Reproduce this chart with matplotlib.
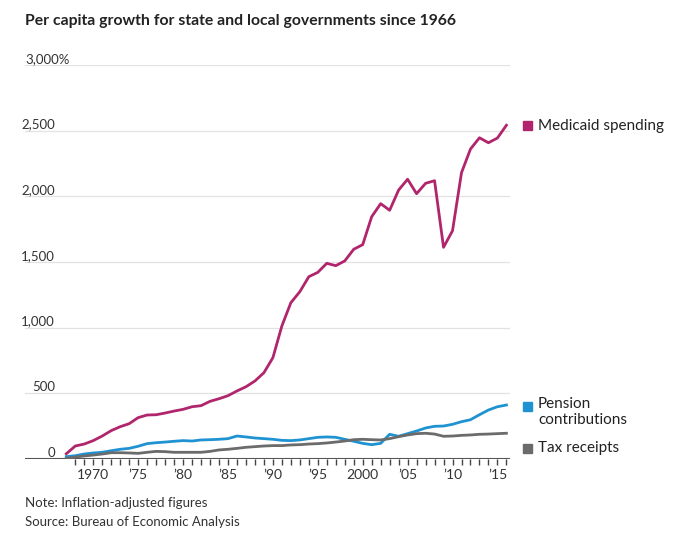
import matplotlib.pyplot as plt

plt.rcParams['font.family'] = ['Lato', 'DejaVu Sans']

YEARS = list(range(1967, 2017))

MEDICAID = [40, 99, 114, 140, 175, 216, 246, 269, 315, 335,
            337, 350, 365, 378, 398, 406, 439, 459, 482, 518,
            550, 594, 657, 771, 1013, 1190, 1274, 1388, 1421, 1490,
            1472, 1508, 1597, 1632, 1845, 1944, 1894, 2048, 2130, 2020,
            2099, 2119, 1612, 1738, 2180, 2360, 2446, 2408, 2444, 2541]

PENSION = [18, 25, 38, 46, 51, 63, 74, 81, 97, 117,
           124, 129, 135, 140, 137, 145, 147, 150, 155, 175,
           168, 160, 155, 150, 142, 140, 145, 155, 165, 168,
           165, 150, 135, 119, 109, 119, 188, 173, 193, 213,
           236, 249, 251, 264, 284, 299, 337, 373, 398, 411]

TAX = [5, 15, 23, 30, 38, 48, 48, 46, 43, 51,
       58, 56, 51, 51, 51, 51, 58, 69, 74, 81,
       89, 94, 99, 102, 102, 107, 109, 114, 117, 122,
       129, 137, 147, 150, 147, 145, 155, 170, 183, 193,
       196, 190, 173, 175, 180, 183, 188, 190, 193, 196]

Y_TICKS = [0, 500, 1000, 1500, 2000, 2500, 3000]
X_TICKS = [1970, 1975, 1980, 1985, 1990, 1995, 2000, 2005, 2010, 2015]
X_LABELS = ['1970', '\u201975', '\u201980', '\u201985', '\u201990', '\u201995',
            '2000', '\u201905', '\u201910', '\u201915']

# name, values, colour, y pixel of the legend square, y pixel of text top/centre
SERIES = [
    ('Medicaid spending', MEDICAID, '#b0256c', 126),
    ('Pension\ncontributions', PENSION, '#1f93d2', 406),
    ('Tax receipts', TAX, '#6b6b6b', 448),
]

W, H = 680, 535
fig = plt.figure(figsize=(W / 100, H / 100), dpi=100)
ax = fig.add_axes([25 / W, 1 - 459 / H, (510 - 25) / W, (459 - 65) / H])
ax.set_xlim(1962.4, 2016.4)
ax.set_ylim(0, 3000)

for s in ax.spines.values():
    s.set_visible(False)
ax.set_yticks([])
ax.set_xticks(X_TICKS)
ax.set_xticklabels(X_LABELS)
ax.set_xticks(range(1968, 2017), minor=True)
ax.tick_params(axis='x', which='both', length=4, width=1, color='#444444',
               direction='out', pad=3, labelsize=10, labelcolor='#333333')

for v in Y_TICKS[1:]:
    ax.axhline(v, color='#e2e2e2', lw=0.9, zorder=0)
ax.axhline(0, color='#555555', lw=1.5, zorder=1)

for v in Y_TICKS:
    if v == 3000:
        ax.text(0.0, v + 48, '3,000%', transform=ax.get_yaxis_transform(),
                ha='left', va='center', fontsize=9.5, color='#333333')
    else:
        ax.text(30 / (510 - 25), v + 48, f'{v:,}', transform=ax.get_yaxis_transform(),
                ha='right', va='center', fontsize=9.5, color='#333333')

for name, vals, color, ypix in SERIES:
    ax.plot(YEARS, vals, color=color, lw=2, solid_joinstyle='round', zorder=3)

for name, vals, color, ypix in SERIES:
    yc = 1 - ypix / H
    fig.patches.append(plt.Rectangle((523 / W, yc - 4.5 / H), 9 / W, 9 / H,
                                     transform=fig.transFigure, color=color))
    if '\n' in name:
        fig.text(538 / W, yc + 8.5 / H, name, ha='left', va='top',
                 fontsize=11, color='#222222', linespacing=1.15)
    else:
        fig.text(538 / W, yc, name, ha='left', va='center',
                 fontsize=11, color='#222222')

fig.text(25 / W, 1 - 21 / H, 'Per capita growth for state and local governments since 1966',
         ha='left', va='center', fontsize=11.3, fontweight='bold', color='#222222')
fig.text(25 / W, 1 - 503 / H, 'Note: Inflation-adjusted figures',
         ha='left', va='center', fontsize=9.5, color='#333333')
fig.text(25 / W, 1 - 522 / H, 'Source: Bureau of Economic Analysis',
         ha='left', va='center', fontsize=9.5, color='#333333')

fig.savefig('out.png', dpi=100)
